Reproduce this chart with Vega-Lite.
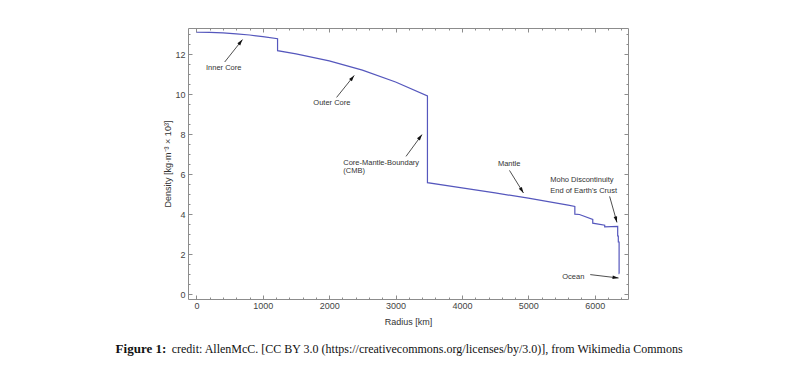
{
  "$schema": "https://vega.github.io/schema/vega-lite/v6.json",
  "width": 440,
  "height": 271,
  "autosize": {"type": "none"},
  "padding": {"left": 188, "top": 28, "right": 172, "bottom": 72},
  "background": "white",
  "config": {
    "view": {"stroke": "#8c8c8c", "strokeWidth": 1},
    "font": "Liberation Sans",
    "axis": {
      "domain": false,
      "grid": false,
      "tickColor": "#8c8c8c",
      "tickWidth": 1,
      "labelFont": "Liberation Sans",
      "labelFontSize": 9,
      "labelColor": "#444444",
      "titleFont": "Liberation Sans",
      "titleFontSize": 9,
      "titleFontWeight": "normal",
      "titleColor": "#333333"
    }
  },
  "datasets": {
    "prem": [
      {"r": 0, "rho": 13.0885},
      {"r": 200, "rho": 13.0798},
      {"r": 400, "rho": 13.0537},
      {"r": 600, "rho": 13.0101},
      {"r": 800, "rho": 12.9491},
      {"r": 1000, "rho": 12.8708},
      {"r": 1221.5, "rho": 12.7636},
      {"r": 1221.5, "rho": 12.1663},
      {"r": 1500, "rho": 12.0099},
      {"r": 2000, "rho": 11.6548},
      {"r": 2500, "rho": 11.1906},
      {"r": 3000, "rho": 10.6015},
      {"r": 3480, "rho": 9.9036},
      {"r": 3480, "rho": 5.5665},
      {"r": 4000, "rho": 5.3073},
      {"r": 4500, "rho": 5.0547},
      {"r": 5000, "rho": 4.7899},
      {"r": 5600, "rho": 4.4432},
      {"r": 5701, "rho": 4.3808},
      {"r": 5701, "rho": 3.9921},
      {"r": 5771, "rho": 3.9758},
      {"r": 5971, "rho": 3.7237},
      {"r": 5971, "rho": 3.5432},
      {"r": 6151, "rho": 3.4358},
      {"r": 6151, "rho": 3.3595},
      {"r": 6346.6, "rho": 3.3808},
      {"r": 6346.6, "rho": 2.9},
      {"r": 6356, "rho": 2.9},
      {"r": 6356, "rho": 2.6},
      {"r": 6368, "rho": 2.6},
      {"r": 6368, "rho": 1.02},
      {"r": 6371, "rho": 1.02}
    ],
    "arrows": [
      {"label": "Inner Core", "x0": 425, "y0": 11.6, "x1": 693, "y1": 12.72},
      {"label": "Outer Core", "x0": 2111, "y0": 9.83, "x1": 2377, "y1": 10.93},
      {"label": "CMB", "x0": 3157, "y0": 6.88, "x1": 3398, "y1": 7.97},
      {"label": "Mantle", "x0": 4716, "y0": 6.18, "x1": 4927, "y1": 5.05},
      {"label": "Moho", "x0": 6225, "y0": 4.88, "x1": 6336, "y1": 3.58},
      {"label": "Ocean", "x0": 5933, "y0": 0.97, "x1": 6360, "y1": 0.8}
    ],
    "centerLabels": [
      {"text": "Inner Core", "x": 410, "y": 11.3},
      {"text": "Outer Core", "x": 2040, "y": 9.53},
      {"text": "Mantle", "x": 4711, "y": 6.52},
      {"text": "Ocean", "x": 5677, "y": 0.83}
    ],
    "leftLabels": [
      {"text": "Core-Mantle-Boundary", "x": 2211, "y": 6.55},
      {"text": "(CMB)", "x": 2211, "y": 6.13},
      {"text": "Moho Discontinuity", "x": 5330, "y": 5.72},
      {"text": "End of Earth's Crust", "x": 5330, "y": 5.13}
    ]
  },
  "layer": [
    {
      "data": {"name": "prem"},
      "mark": {"type": "line", "color": "#5557bd", "strokeWidth": 1.2},
      "encoding": {
        "x": {"field": "r", "type": "quantitative",
          "scale": {"domain": [-128, 6502], "nice": false, "zero": false},
          "axis": {"orient": "bottom", "values": [0, 1000, 2000, 3000, 4000, 5000, 6000], "format": "d", "tickSize": -4, "labelPadding": 6, "title": "Radius [km]", "titlePadding": 7}},
        "y": {"field": "rho", "type": "quantitative",
          "scale": {"domain": [-0.25, 13.3], "nice": false, "zero": false},
          "axis": {"orient": "left", "values": [0, 2, 4, 6, 8, 10, 12], "format": "d", "tickSize": -4, "labelPadding": 7, "title": "Density [kg·m⁻³ × 10³]", "titlePadding": 2}}
      }
    },
    {
      "data": {"name": "arrows"},
      "mark": {"type": "rule", "color": "#222222", "strokeWidth": 0.8},
      "encoding": {
        "x": {"field": "x0", "type": "quantitative",
          "scale": {"domain": [-128, 6502], "nice": false, "zero": false},
          "axis": {"orient": "top", "values": [0, 1000, 2000, 3000, 4000, 5000, 6000], "tickSize": -4, "labels": false, "title": null}},
        "y": {"field": "y0", "type": "quantitative",
          "scale": {"domain": [-0.25, 13.3], "nice": false, "zero": false},
          "axis": {"orient": "right", "values": [0, 2, 4, 6, 8, 10, 12], "tickSize": -4, "labels": false, "title": null}},
        "x2": {"field": "x1"},
        "y2": {"field": "y1"}
      }
    },
    {
      "data": {"name": "centerLabels"},
      "mark": {"type": "text", "align": "center", "baseline": "middle", "font": "Liberation Sans", "fontSize": 7.5, "color": "#333333"},
      "encoding": {
        "x": {"field": "x", "type": "quantitative",
          "scale": {"domain": [-128, 6502], "nice": false, "zero": false},
          "axis": {"orient": "bottom", "values": [200, 400, 600, 800, 1200, 1400, 1600, 1800, 2200, 2400, 2600, 2800, 3200, 3400, 3600, 3800, 4200, 4400, 4600, 4800, 5200, 5400, 5600, 5800, 6200, 6400], "tickSize": -2, "labels": false, "title": null}},
        "y": {"field": "y", "type": "quantitative",
          "scale": {"domain": [-0.25, 13.3], "nice": false, "zero": false},
          "axis": {"orient": "left", "values": [0.5, 1, 1.5, 2.5, 3, 3.5, 4.5, 5, 5.5, 6.5, 7, 7.5, 8.5, 9, 9.5, 10.5, 11, 11.5, 12.5, 13], "tickSize": -2, "labels": false, "title": null}},
        "text": {"field": "text"}
      }
    },
    {
      "data": {"name": "leftLabels"},
      "mark": {"type": "text", "align": "left", "baseline": "middle", "font": "Liberation Sans", "fontSize": 7.5, "color": "#333333"},
      "encoding": {
        "x": {"field": "x", "type": "quantitative",
          "scale": {"domain": [-128, 6502], "nice": false, "zero": false},
          "axis": {"orient": "top", "values": [200, 400, 600, 800, 1200, 1400, 1600, 1800, 2200, 2400, 2600, 2800, 3200, 3400, 3600, 3800, 4200, 4400, 4600, 4800, 5200, 5400, 5600, 5800, 6200, 6400], "tickSize": -2, "labels": false, "title": null}},
        "y": {"field": "y", "type": "quantitative",
          "scale": {"domain": [-0.25, 13.3], "nice": false, "zero": false},
          "axis": {"orient": "right", "values": [0.5, 1, 1.5, 2.5, 3, 3.5, 4.5, 5, 5.5, 6.5, 7, 7.5, 8.5, 9, 9.5, 10.5, 11, 11.5, 12.5, 13], "tickSize": -2, "labels": false, "title": null}},
        "text": {"field": "text"}
      }
    },
    {
      "data": {"name": "arrows"},
      "transform": [{"filter": "datum.label === 'Inner Core'"}],
      "mark": {"type": "point", "shape": "M0,0L0.6,2L-0.6,2Z", "filled": true, "color": "#111111", "opacity": 1, "size": 36, "angle": 38.4},
      "encoding": {
        "x": {"field": "x1", "type": "quantitative", "scale": {"domain": [-128, 6502], "nice": false, "zero": false}, "axis": null},
        "y": {"field": "y1", "type": "quantitative", "scale": {"domain": [-0.25, 13.3], "nice": false, "zero": false}, "axis": null}
      }
    },
    {
      "data": {"name": "arrows"},
      "transform": [{"filter": "datum.label === 'Outer Core'"}],
      "mark": {"type": "point", "shape": "M0,0L0.6,2L-0.6,2Z", "filled": true, "color": "#111111", "opacity": 1, "size": 36, "angle": 38.7},
      "encoding": {
        "x": {"field": "x1", "type": "quantitative", "scale": {"domain": [-128, 6502], "nice": false, "zero": false}, "axis": null},
        "y": {"field": "y1", "type": "quantitative", "scale": {"domain": [-0.25, 13.3], "nice": false, "zero": false}, "axis": null}
      }
    },
    {
      "data": {"name": "arrows"},
      "transform": [{"filter": "datum.label === 'CMB'"}],
      "mark": {"type": "point", "shape": "M0,0L0.6,2L-0.6,2Z", "filled": true, "color": "#111111", "opacity": 1, "size": 36, "angle": 36.4},
      "encoding": {
        "x": {"field": "x1", "type": "quantitative", "scale": {"domain": [-128, 6502], "nice": false, "zero": false}, "axis": null},
        "y": {"field": "y1", "type": "quantitative", "scale": {"domain": [-0.25, 13.3], "nice": false, "zero": false}, "axis": null}
      }
    },
    {
      "data": {"name": "arrows"},
      "transform": [{"filter": "datum.label === 'Mantle'"}],
      "mark": {"type": "point", "shape": "M0,0L0.6,2L-0.6,2Z", "filled": true, "color": "#111111", "opacity": 1, "size": 36, "angle": 148.2},
      "encoding": {
        "x": {"field": "x1", "type": "quantitative", "scale": {"domain": [-128, 6502], "nice": false, "zero": false}, "axis": null},
        "y": {"field": "y1", "type": "quantitative", "scale": {"domain": [-0.25, 13.3], "nice": false, "zero": false}, "axis": null}
      }
    },
    {
      "data": {"name": "arrows"},
      "transform": [{"filter": "datum.label === 'Moho'"}],
      "mark": {"type": "point", "shape": "M0,0L0.6,2L-0.6,2Z", "filled": true, "color": "#111111", "opacity": 1, "size": 36, "angle": 164.1},
      "encoding": {
        "x": {"field": "x1", "type": "quantitative", "scale": {"domain": [-128, 6502], "nice": false, "zero": false}, "axis": null},
        "y": {"field": "y1", "type": "quantitative", "scale": {"domain": [-0.25, 13.3], "nice": false, "zero": false}, "axis": null}
      }
    },
    {
      "data": {"name": "arrows"},
      "transform": [{"filter": "datum.label === 'Ocean'"}],
      "mark": {"type": "point", "shape": "M0,0L0.6,2L-0.6,2Z", "filled": true, "color": "#111111", "opacity": 1, "size": 36, "angle": 96.7},
      "encoding": {
        "x": {"field": "x1", "type": "quantitative", "scale": {"domain": [-128, 6502], "nice": false, "zero": false}, "axis": null},
        "y": {"field": "y1", "type": "quantitative", "scale": {"domain": [-0.25, 13.3], "nice": false, "zero": false}, "axis": null}
      }
    },
    {
      "data": {"values": [{"x": -1219, "y": -2.74, "t": "Figure 1:"}]},
      "mark": {"type": "text", "align": "left", "baseline": "middle", "font": "Liberation Serif", "fontSize": 13, "fontWeight": "bold", "color": "#111111"},
      "encoding": {
        "x": {"field": "x", "type": "quantitative", "scale": {"domain": [-128, 6502], "nice": false, "zero": false}, "axis": null},
        "y": {"field": "y", "type": "quantitative", "scale": {"domain": [-0.25, 13.3], "nice": false, "zero": false}, "axis": null},
        "text": {"field": "t"}
      }
    },
    {
      "data": {"values": [{"x": -374, "y": -2.74, "t": "credit: AllenMcC. [CC BY 3.0 (https://creativecommons.org/licenses/by/3.0)], from Wikimedia Commons"}]},
      "mark": {"type": "text", "align": "left", "baseline": "middle", "font": "Liberation Serif", "fontSize": 12, "color": "#111111"},
      "encoding": {
        "x": {"field": "x", "type": "quantitative", "scale": {"domain": [-128, 6502], "nice": false, "zero": false}, "axis": null},
        "y": {"field": "y", "type": "quantitative", "scale": {"domain": [-0.25, 13.3], "nice": false, "zero": false}, "axis": null},
        "text": {"field": "t"}
      }
    }
  ]
}
